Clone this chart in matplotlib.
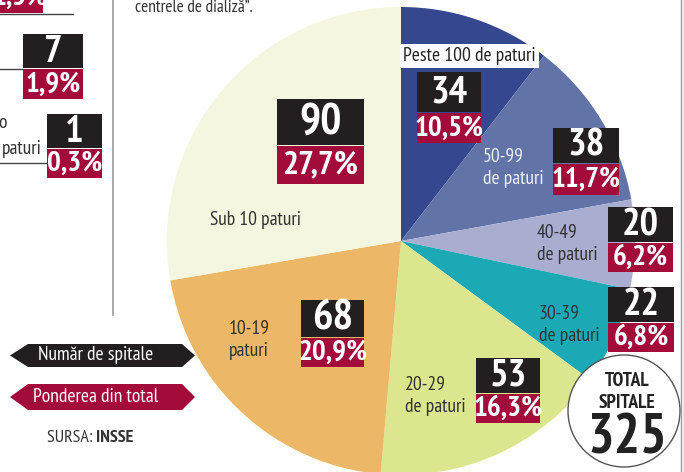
import matplotlib
matplotlib.use("Agg")
import matplotlib.pyplot as plt
from matplotlib import font_manager as fm
from matplotlib.patches import Rectangle, Polygon, Circle

# ---- data ----
categories = ["Peste 100 de paturi", "50-99\nde paturi", "40-49\nde paturi", "30-39\nde paturi",
              "20-29\nde paturi", "10-19\npaturi", "Sub 10 paturi"]
counts = [34, 38, 20, 22, 53, 68, 90]
shares = ["10,5%", "11,7%", "6,2%", "6,8%", "16,3%", "20,9%", "27,7%"]
total = 325
colors = ["#34478f", "#6273a8", "#a9add0", "#1ba9b6", "#dce68f", "#ecb867", "#f4f6df"]

# pick an installed condensed family (Myriad Condensed look-alike)
_avail = {f.name for f in fm.fontManager.ttflist}
_cands = ["PT Sans Narrow", "Roboto Condensed", "Fira Sans Condensed", "Archivo Narrow",
          "IBM Plex Sans Condensed", "Open Sans Condensed", "DejaVu Sans"]
CF = next(c for c in _cands if c in _avail)
FONT = [CF, "DejaVu Sans"]
plt.rcParams["font.family"] = FONT

W, H = 684, 472
fig = plt.figure(figsize=(W / 100, H / 100), dpi=100)
ax = fig.add_axes([0, 0, 1, 1])

def Y(p):
    return H - p

BLACK = "#231f20"
RED = "#a30b3b"

# pie
ax.pie(counts, colors=colors, startangle=90, counterclock=False,
       center=(401, Y(241)), radius=234, wedgeprops=dict(linewidth=0))
ax.set_xlim(0, W)
ax.set_ylim(0, H)
ax.set_aspect("equal")
ax.axis("off")

def box(x0, x1, yt, ym, yb, num, pct, fnum=28, fpct=21):
    ax.add_patch(Rectangle((x0, Y(ym)), x1 - x0, ym - yt, facecolor=BLACK, edgecolor="none", zorder=5))
    ax.add_patch(Rectangle((x0, Y(yb)), x1 - x0, yb - ym - 0.5, facecolor=RED, edgecolor="none", zorder=5))
    ax.text((x0 + x1) / 2, Y((yt + ym) / 2 + 1), str(num), color="white", fontsize=fnum,
            fontweight="bold", ha="center", va="center", zorder=6, clip_on=True)
    ax.text((x0 + x1) / 2, Y((ym + yb) / 2 + 1), pct, color="white", fontsize=fpct,
            fontweight="bold", ha="center", va="center", zorder=6, clip_on=True)

# boxes for each slice
box(417, 481, 72, 112, 143, counts[0], shares[0])
box(553, 619, 128, 163, 195, counts[1], shares[1])
box(608, 673, 207, 242, 272, counts[2], shares[2])
box(608, 674, 287, 322, 352, counts[3], shares[3])
box(476, 540, 358, 393, 423, counts[4], shares[4])
box(301, 364, 300, 337, 367, counts[5], shares[5], fnum=31, fpct=21)
box(277, 364, 99, 145, 184, counts[6], shares[6], fnum=32, fpct=24)

# slice labels
ax.text(403, Y(56), categories[0], fontsize=14, color="#222222", ha="left", va="center",
        bbox=dict(boxstyle="square,pad=0.15", facecolor="white", edgecolor="none"), zorder=4)
ax.text(483, Y(168), categories[1], fontsize=14, color="#eef0f6", ha="left", va="center",
        linespacing=1.25, zorder=4)
ax.text(537, Y(244), categories[2], fontsize=14, color="#333333", ha="left", va="center",
        linespacing=1.25, zorder=4)
ax.text(539, Y(325), categories[3], fontsize=14, color="#333333", ha="left", va="center",
        linespacing=1.25, zorder=4)
ax.text(405, Y(396), categories[4], fontsize=14, color="#333333", ha="left", va="center",
        linespacing=1.25, zorder=4)
ax.text(249, Y(340), categories[5], fontsize=14, color="#333333", ha="center", va="center",
        linespacing=1.25, zorder=4)
ax.text(256, Y(220), categories[6], fontsize=14, color="#333333", ha="center", va="center", zorder=4)

# total circle
ax.add_patch(Circle((624, Y(411)), 56, facecolor="white", edgecolor="#555555", linewidth=1.0, zorder=7))
ax.text(627, Y(381), "TOTAL", fontsize=14, fontweight="bold", color="#222222", ha="center", va="center", zorder=8)
ax.text(627, Y(403), "SPITALE", fontsize=14, fontweight="bold", color="#222222", ha="center", va="center", zorder=8)
ax.text(627, Y(439), str(total), fontsize=40, fontweight="bold", color="#222222", ha="center", va="center", zorder=8, clip_on=True)

# frame lines
ax.plot([113, 113], [Y(0), Y(315)], color="#9a9a9a", lw=1.2, zorder=3)
ax.plot([681, 681], [Y(0), Y(472)], color="#9a9a9a", lw=1.0, zorder=9)
ax.plot([684, 684], [Y(0), Y(472)], color="#9a9a9a", lw=1.0, zorder=9)

# top text
ax.text(135, Y(8), "centrele de dializă”.", fontsize=12.5, color="#333333", ha="left", va="center")

# left partial panel
ax.add_patch(Rectangle((0, Y(13)), 43, 30, facecolor=RED, edgecolor="none"))
ax.text(20, Y(-2), "1,5%", fontsize=21, fontweight="bold", color="white", ha="center", va="center", clip_on=True)
ax.plot([0, 73], [Y(14), Y(14)], color="#444444", lw=1.0)
box(23, 83, 34, 68, 99, 7, "1,9%")
ax.plot([0, 23], [Y(69), Y(69)], color="#444444", lw=1.0)
box(47, 102, 114, 148, 178, 1, "0,3%")
ax.plot([0, 47], [Y(163), Y(163)], color="#444444", lw=1.0)
ax.text(-2, Y(123), "o", fontsize=14, color="#333333", ha="left", va="center", clip_on=True)
ax.text(42, Y(149), "paturi", fontsize=14, color="#333333", ha="right", va="center", clip_on=True)

# legend banners
def banner(yt, yb, color, label):
    ym = (yt + yb) / 2
    pts = [(10, Y(ym)), (28, Y(yt)), (182, Y(yt)), (195, Y(ym)), (182, Y(yb)), (28, Y(yb))]
    ax.add_patch(Polygon(pts, closed=True, facecolor=color, edgecolor="none", zorder=5))
    ax.text(96, Y(ym), label, fontsize=14, color="white", ha="center", va="center", zorder=6)

banner(344, 367, BLACK, "Număr de spitale")
banner(384, 410, RED, "Ponderea din total")

ax.text(96, Y(438), "SURSA: ", fontsize=13, color="#333333", ha="right", va="center")
ax.text(96, Y(438), "INSSE", fontsize=13, fontweight="bold", color="#333333", ha="left", va="center")

fig.savefig("out.png", dpi=100)
